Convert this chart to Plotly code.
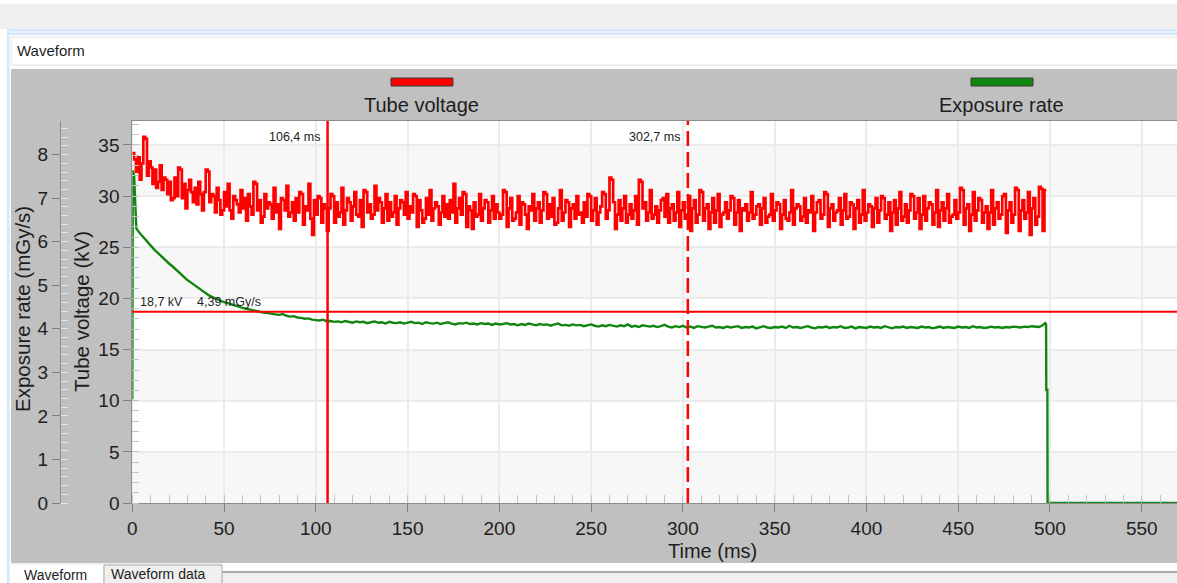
import plotly.graph_objects as go

FONT = "Liberation Sans, Arial, sans-serif"
W, H = 1177, 583

# ---------------- data ----------------
# Tube voltage (kV), one sample per ms starting at t = 0 ms
RED_DT = 1.0
red_kv = [
    34.2, 33.6, 32.4, 33.8, 31.6, 33.2, 35.8, 35.6, 32.0, 33.4, 32.8, 31.2, 32.6, 30.8, 31.4, 33.0, 30.6, 31.8, 31.6, 30.2,
    31.4, 29.6, 29.8, 31.8, 30.0, 32.8, 32.6, 29.8, 31.2, 28.8, 30.6, 31.6, 30.4, 29.4, 30.8, 29.2, 31.4, 30.2, 28.6, 30.4,
    32.6, 32.4, 29.4, 30.2, 30.0, 28.4, 30.8, 29.6, 28.2, 28.6, 30.4, 29.0, 31.2, 28.6, 27.8, 30.0, 29.6, 29.2, 28.4, 30.6,
    28.8, 29.8, 27.6, 30.2, 29.0, 28.2, 31.4, 31.2, 28.6, 29.6, 27.4, 28.0, 30.2, 28.8, 29.4, 29.2, 27.8, 30.8, 28.4, 29.2,
    26.8, 29.8, 29.6, 28.6, 31.0, 28.0, 28.4, 29.4, 27.6, 29.8, 28.4, 30.4, 30.2, 27.2, 29.0, 28.6, 31.2, 27.8, 26.2, 29.6,
    28.2, 30.0, 29.8, 27.4, 29.2, 28.8, 26.6, 28.8, 30.2, 30.0, 27.4, 29.4, 28.0, 28.4, 30.8, 27.2, 28.6, 29.8, 29.4, 27.6,
    29.0, 30.4, 28.2, 28.0, 29.6, 27.0, 30.6, 30.4, 28.4, 29.2, 27.8, 28.2, 31.0, 28.6, 29.8, 29.4, 27.4, 28.8, 30.2, 27.6,
    29.4, 28.0, 28.4, 30.0, 27.2, 28.8, 29.6, 29.4, 28.2, 30.4, 27.8, 29.0, 28.4, 30.2, 30.0, 27.0, 29.6, 28.6, 27.4, 27.8,
    29.8, 28.2, 30.6, 27.6, 28.8, 29.4, 29.0, 27.2, 28.4, 30.0, 28.0, 29.2, 27.8, 29.6, 28.4, 31.2, 27.4, 28.8, 29.8, 28.2,
    30.4, 30.2, 27.0, 29.0, 28.6, 26.8, 29.4, 28.0, 28.2, 30.2, 27.6, 28.8, 29.6, 29.4, 27.4, 28.6, 30.0, 27.8, 29.2, 28.4,
    27.8, 28.2, 30.6, 30.4, 27.0, 28.8, 29.8, 27.6, 27.8, 28.4, 30.0, 27.2, 29.4, 29.2, 28.2, 26.8, 29.0, 28.6, 30.2, 27.6,
    28.8, 29.4, 27.4, 28.6, 30.4, 30.2, 27.8, 29.2, 28.0, 29.8, 27.2, 27.4, 28.8, 30.6, 27.6, 28.4, 29.6, 29.4, 27.0, 28.8,
    29.2, 27.8, 30.0, 28.2, 28.4, 27.4, 29.4, 28.0, 30.2, 30.0, 27.6, 28.6, 29.8, 27.2, 28.4, 29.0, 30.4, 30.2, 27.8, 28.6,
    31.8, 31.6, 29.4, 26.8, 28.2, 29.6, 27.6, 28.8, 30.0, 27.4, 28.2, 29.2, 27.8, 28.6, 30.0, 27.2, 31.6, 31.4, 28.8, 29.4,
    27.6, 28.4, 30.6, 27.8, 28.2, 29.0, 27.4, 28.6, 29.6, 29.8, 28.0, 30.2, 27.4, 28.8, 29.2, 27.6, 28.4, 30.4, 27.0, 28.6,
    29.4, 27.8, 28.2, 30.0, 26.6, 28.8, 29.6, 27.4, 28.2, 30.6, 30.4, 27.6, 28.8, 29.2, 26.8, 28.4, 29.8, 27.4, 28.6, 30.2,
    27.0, 28.2, 28.4, 29.4, 27.8, 28.6, 30.0, 29.8, 27.2, 28.4, 29.6, 26.6, 28.8, 28.6, 29.2, 27.6, 28.4, 30.4, 27.8, 28.2,
    29.0, 29.2, 27.2, 28.8, 29.8, 27.4, 28.0, 28.2, 30.2, 27.6, 28.6, 29.4, 29.2, 26.8, 28.2, 29.6, 27.8, 27.6, 28.4, 30.6,
    27.2, 28.8, 29.2, 29.0, 27.6, 28.0, 29.8, 27.4, 28.6, 28.4, 30.0, 26.6, 28.4, 29.4, 29.6, 27.8, 28.2, 30.4, 30.2, 27.0,
    28.8, 29.2, 27.6, 28.4, 28.6, 29.8, 27.2, 28.6, 30.2, 27.8, 28.0, 29.4, 29.2, 26.8, 28.8, 29.6, 27.4, 28.2, 30.6, 27.6,
    28.4, 29.2, 29.0, 27.0, 28.8, 29.8, 27.4, 28.6, 30.0, 29.8, 27.8, 28.2, 29.4, 26.6, 28.4, 29.6, 27.2, 28.8, 30.4, 27.6,
    28.0, 29.2, 27.4, 28.6, 30.2, 30.0, 27.8, 28.4, 29.8, 26.8, 28.2, 30.0, 27.6, 28.8, 29.4, 29.2, 27.2, 28.4, 30.6, 27.0,
    28.6, 29.4, 27.6, 28.8, 30.2, 27.4, 28.0, 28.2, 29.6, 27.8, 28.4, 30.8, 30.6, 27.2, 28.8, 29.2, 26.6, 28.2, 30.4, 27.6,
    28.6, 29.8, 29.6, 27.4, 28.4, 29.0, 26.8, 28.4, 30.6, 27.2, 28.8, 29.4, 27.8, 28.2, 30.0, 30.2, 26.4, 28.6, 29.4, 27.4,
    28.2, 30.8, 30.6, 26.6, 28.6, 29.6, 27.8, 28.4, 30.4, 26.2, 28.8, 29.8, 27.2, 28.0, 30.9, 30.7, 26.6, 30.6,
]
red_end_t = 498.0

# Exposure rate (mGy/s)
green_head_t = [0.0, 0.3, 1.0, 1.6, 2.2]
green_head_v = [2.38, 7.64, 7.50, 6.80, 6.30]
GREEN_T0, GREEN_DT = 4.0, 2.0
green_body_v = [
    6.20, 6.10, 6.00, 5.91, 5.82, 5.74, 5.66, 5.56, 5.50, 5.43, 5.35, 5.27, 5.20, 5.12, 5.06, 5.00, 4.93, 4.86, 4.80, 4.76,
    4.72, 4.68, 4.64, 4.61, 4.59, 4.56, 4.53, 4.50, 4.48, 4.46, 4.44, 4.42, 4.40, 4.39, 4.37, 4.36, 4.34, 4.33, 4.32, 4.34,
    4.30, 4.28, 4.29, 4.26, 4.25, 4.23, 4.24, 4.21, 4.20, 4.19, 4.21, 4.17, 4.18, 4.16, 4.17, 4.15, 4.18, 4.16, 4.14, 4.17,
    4.15, 4.16, 4.13, 4.15, 4.17, 4.14, 4.15, 4.12, 4.16, 4.14, 4.13, 4.15, 4.12, 4.14, 4.16, 4.13, 4.14, 4.11, 4.15, 4.13,
    4.12, 4.14, 4.11, 4.13, 4.15, 4.12, 4.10, 4.13, 4.12, 4.14, 4.11, 4.12, 4.10, 4.13, 4.11, 4.12, 4.09, 4.12, 4.10, 4.11,
    4.13, 4.10, 4.11, 4.08, 4.11, 4.09, 4.12, 4.10, 4.08, 4.11, 4.09, 4.10, 4.07, 4.10, 4.12, 4.08, 4.09, 4.07, 4.10, 4.08,
    4.09, 4.06, 4.08, 4.10, 4.07, 4.05, 4.08, 4.06, 4.09, 4.07, 4.05, 4.08, 4.06, 4.10, 4.05, 4.07, 4.04, 4.08, 4.06, 4.05,
    4.07, 4.04, 4.06, 4.09, 4.05, 4.03, 4.06, 4.04, 4.07, 4.03, 4.05, 4.02, 4.06, 4.04, 4.03, 4.05, 4.07, 4.03, 4.04, 4.02,
    4.05, 4.03, 4.04, 4.06, 4.02, 4.04, 4.03, 4.05, 4.01, 4.04, 4.06, 4.03, 4.02, 4.04, 4.03, 4.05, 4.02, 4.07, 4.03, 4.04,
    4.02, 4.04, 4.06, 4.03, 4.01, 4.04, 4.03, 4.05, 4.02, 4.04, 4.03, 4.06, 4.02, 4.03, 4.05, 4.01, 4.04, 4.03, 4.02, 4.05,
    4.03, 4.04, 4.02, 4.06, 4.03, 4.01, 4.04, 4.03, 4.05, 4.02, 4.04, 4.03, 4.02, 4.05, 4.03, 4.04, 4.01, 4.03, 4.05, 4.02,
    4.04, 4.03, 4.02, 4.05, 4.03, 4.04, 4.02, 4.06, 4.03, 4.04, 4.02, 4.03, 4.05, 4.03, 4.04, 4.02, 4.04, 4.03, 4.05, 4.04,
    4.03, 4.05, 4.04, 4.06, 4.05, 4.04, 4.08,
]
green_tail_t = [497.4, 497.9, 498.0, 498.6, 498.7, 570.0]
green_tail_v = [4.13, 4.10, 2.60, 2.60, 0.00, 0.00]

# cursors
cursor_t1 = 106.4
cursor_t2 = 302.7
cursor_kv = 18.7
cursor_rate = 4.39
cursor_t1_label = "106,4 ms"
cursor_t2_label = "302,7 ms"
cursor_kv_label = "18,7 kV"
cursor_rate_label = "4,39 mGy/s"

x_ticks_step = 50
kv_ticks_step = 5
rate_ticks_step = 1

# ---------------- build ----------------
red_t = [i * RED_DT for i in range(len(red_kv))]
green_body_t = [GREEN_T0 + i * GREEN_DT for i in range(len(green_body_v))]
green_t = green_head_t + green_body_t + green_tail_t
green_v = green_head_v + green_body_v + green_tail_v


def X(px):
    return px / W


def Y(py):
    return 1 - py / H


PLOT_L, PLOT_T, PLOT_B = 132.3, 121.0, 503.0
PX_PER_MS = 1.8353
PX_PER_KV = 10.229
PX_PER_RATE = 43.55
x_max = (W - PLOT_L) / PX_PER_MS
kv_max = (PLOT_B - PLOT_T) / PX_PER_KV
rate_max = (PLOT_B - PLOT_T) / PX_PER_RATE

fig = go.Figure()
fig.add_trace(go.Scatter(
    x=green_t, y=green_v, yaxis="y2", mode="lines", name="Exposure rate",
    line=dict(color="#118611", width=2.4), hoverinfo="skip"))
fig.add_trace(go.Scatter(
    x=red_t + [red_end_t], y=red_kv + [red_kv[-1]], mode="lines", name="Tube voltage",
    line=dict(color="#ff0000", width=2.7, shape="hv"), hoverinfo="skip"))

shapes = []


def prect(x0, y0, x1, y1, fill, line=None, lw=0, layer="below"):
    shapes.append(dict(type="rect", xref="paper", yref="paper",
                       x0=X(x0), x1=X(x1), y0=Y(y1), y1=Y(y0),
                       fillcolor=fill, line=dict(color=line or fill, width=lw),
                       layer=layer))


# window chrome
prect(0, 4, W, 29, "#f0f0f0")
prect(9, 29, W, 35, "#d4e7f8")
prect(9, 31, W, 33, "#e8f2fc")
prect(7, 29, 9.5, H, "#d4e7f8")
prect(11, 37, W + 2, 65, "#ffffff", "#e2e2e2", 1)
prect(11, 69, W + 2, 563, "#c0c0c0")
# bottom tabs strip
prect(11, 563, W, H, "#f0f0f0")
prect(222, 563, W + 2, 571, "#ffffff")
prect(222, 571, W + 2, 573, "#a9a9a9")
prect(104, 565, 222, H + 3, "#f0f0f0", "#a9a9a9", 1)
prect(11, 565, 103, H + 3, "#ffffff")
# plot area
prect(PLOT_L, PLOT_T, W + 2, PLOT_B, "#ffffff")
for y0 in range(0, 35, 10):
    shapes.append(dict(type="rect", xref="x domain", yref="y", x0=0, x1=1,
                       y0=y0, y1=y0 + 5, fillcolor="#f7f7f7",
                       line=dict(width=0), layer="below"))

# legend swatches
prect(391, 78, 453, 86, "#ff0000", "#3a3a3a", 1, layer="above")
prect(971, 78, 1033, 86, "#118611", "#3a3a3a", 1, layer="above")

# cursors
shapes.append(dict(type="line", xref="x", yref="y domain", x0=cursor_t1, x1=cursor_t1,
                   y0=0, y1=1, line=dict(color="#ff0000", width=2.5)))
shapes.append(dict(type="line", xref="x", yref="y domain", x0=cursor_t2, x1=cursor_t2,
                   y0=0, y1=1, line=dict(color="#ff0000", width=2.5, dash="15px,6px")))
shapes.append(dict(type="line", xref="x domain", yref="y", x0=0, x1=1,
                   y0=cursor_kv, y1=cursor_kv, line=dict(color="#ff0000", width=2)))

TXT = "#1e1e1e"
ann = []


def pann(text, x, y, size, xanchor="center", yanchor="middle", angle=0):
    ann.append(dict(text=text, xref="paper", yref="paper", x=X(x), y=Y(y),
                    xanchor=xanchor, yanchor=yanchor, showarrow=False,
                    textangle=angle, font=dict(family=FONT, size=size, color=TXT)))


pann("Waveform", 15, 51, 15, xanchor="left")
pann("Tube voltage", 421, 105, 20)
pann("Exposure rate", 1001, 105, 20)
pann("Time (ms)", 712, 551, 20)
pann("Tube voltage (kV)", 81, 312, 20.5, angle=-90)
pann("Exposure rate (mGy/s)", 22, 309, 20.5, angle=-90)
pann("Waveform", 22, 575, 14, xanchor="left")
pann("Waveform data", 109, 574, 14, xanchor="left")

for t, lab in [(cursor_t1, cursor_t1_label), (cursor_t2, cursor_t2_label)]:
    ann.append(dict(text=lab, xref="x", yref="paper", x=t, y=Y(137), xanchor="right",
                    yanchor="middle", xshift=-6, showarrow=False,
                    font=dict(family=FONT, size=12.5, color=TXT)))
ann.append(dict(text=cursor_kv_label, xref="x", yref="y", x=0, y=cursor_kv,
                xanchor="left", yanchor="bottom", xshift=6, yshift=1, showarrow=False,
                font=dict(family=FONT, size=12.5, color=TXT)))
ann.append(dict(text=cursor_rate_label, xref="x", yref="y", x=0, y=cursor_kv,
                xanchor="left", yanchor="bottom", xshift=63, yshift=1, showarrow=False,
                font=dict(family=FONT, size=12.5, color=TXT)))

fig.update_layout(
    width=W, height=H, autosize=False, template="none",
    margin=dict(l=0, r=0, t=0, b=0, pad=0),
    paper_bgcolor="#ffffff", plot_bgcolor="#ffffff", showlegend=False,
    font=dict(family=FONT, size=19, color=TXT),
    shapes=shapes, annotations=ann,
    xaxis=dict(
        domain=[X(PLOT_L), 1], range=[0, x_max], tick0=0, dtick=x_ticks_step,
        ticks="outside", ticklen=8, tickwidth=1, tickcolor="#808080",
        showline=True, linecolor="#8c8c8c", linewidth=1, mirror=True,
        showgrid=True, gridcolor="#ebebeb", gridwidth=1.5, zeroline=False,
        minor=dict(dtick=10, tick0=0, ticks="inside", ticklen=8, tickcolor="#c4c4c4",
                   showgrid=False),
        tickfont=dict(family=FONT, size=19, color=TXT), automargin=False, anchor="y",
    ),
    yaxis=dict(
        domain=[Y(PLOT_B), Y(PLOT_T)], range=[0, kv_max], tick0=0, dtick=kv_ticks_step,
        ticks="outside", ticklen=8, tickwidth=1, tickcolor="#808080",
        showline=True, linecolor="#8c8c8c", linewidth=1,
        showgrid=True, gridcolor="#ebebeb", gridwidth=1.5, zeroline=False,
        minor=dict(dtick=1, tick0=0, ticks="inside", ticklen=7, tickcolor="#c4c4c4",
                   showgrid=False),
        tickfont=dict(family=FONT, size=19, color=TXT), automargin=False, anchor="x",
    ),
    yaxis2=dict(
        overlaying="y", anchor="free", position=X(60), side="left",
        range=[0, rate_max], tick0=0, dtick=rate_ticks_step,
        ticks="outside", ticklen=8, tickwidth=1, tickcolor="#808080",
        showline=True, linecolor="#8c8c8c", linewidth=1,
        showgrid=False, zeroline=False,
        minor=dict(dtick=0.2, tick0=0, ticks="inside", ticklen=7, tickcolor="#e6e6e6",
                   showgrid=False),
        tickfont=dict(family=FONT, size=19, color=TXT), automargin=False,
    ),
)

fig.write_html(
    "out.html",
    config={"displayModeBar": False},
    post_script="document.body.style.margin='0px';document.body.style.overflow='hidden';",
)
